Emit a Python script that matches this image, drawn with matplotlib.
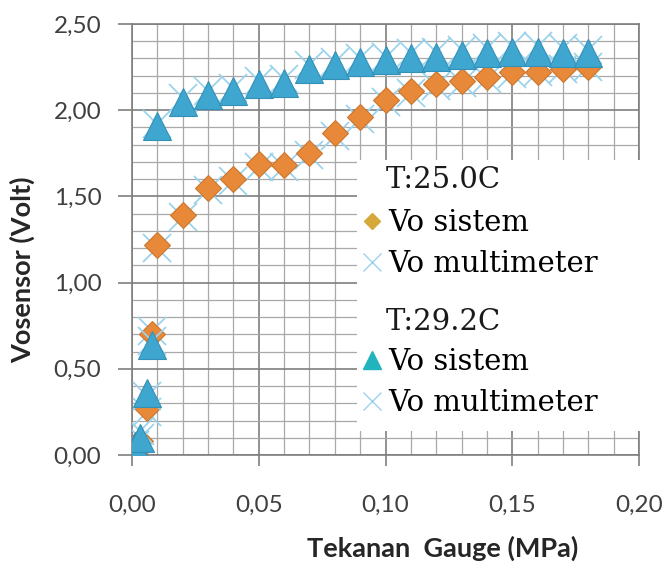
"""Vo sensor vs gauge pressure, two temperatures."""
import matplotlib
matplotlib.use("Agg")
from matplotlib import pyplot
from matplotlib import ticker
from matplotlib import patches
from matplotlib.lines import Line2D

# data
p = [0.001, 0.003, 0.006, 0.008, 0.01, 0.02, 0.03, 0.04, 0.05, 0.06, 0.07,
     0.08, 0.09, 0.10, 0.11, 0.12, 0.13, 0.14, 0.15, 0.16, 0.17, 0.18]

v25_sistem = [0.02, 0.08, 0.27, 0.70, 1.22, 1.39, 1.55, 1.60, 1.69, 1.68, 1.75,
              1.87, 1.96, 2.06, 2.11, 2.15, 2.17, 2.19, 2.22, 2.22, 2.24, 2.25]
v25_multi = [0.03, 0.10, 0.25, 0.72, 1.20, 1.38, 1.54, 1.59, 1.67, 1.67, 1.74,
             1.85, 1.95, 2.05, 2.10, 2.14, 2.16, 2.18, 2.21, 2.22, 2.24, 2.25]
v29_sistem = [0.05, 0.10, 0.36, 0.64, 1.91, 2.05, 2.09, 2.11, 2.15, 2.16, 2.24,
              2.26, 2.28, 2.29, 2.30, 2.31, 2.32, 2.33, 2.34, 2.34, 2.33, 2.33]
v29_multi = [0.06, 0.14, 0.34, 0.66, 1.92, 2.07, 2.11, 2.13, 2.17, 2.18, 2.26,
             2.28, 2.30, 2.31, 2.33, 2.34, 2.35, 2.36, 2.37, 2.37, 2.36, 2.35]

xticks = [0.00, 0.05, 0.10, 0.15, 0.20]
yticks = [0.00, 0.50, 1.00, 1.50, 2.00, 2.50]

c_dia = "#E8893A"
c_tri = "#3EA6CF"
c_x = "#9CD3EC"
tick_col = "#404040"
sans = ["Lato", "DejaVu Sans"]
serif = ["DejaVu Serif"]

W, H = 668, 569
fig = pyplot.figure(figsize=(W / 100, H / 100), dpi=100)
ax = fig.add_axes([132 / W, 1 - 455 / H, (639 - 132) / W, (455 - 24) / H])

# series
ax.plot(p, v25_multi, ls="none", marker="x", ms=20, mew=1.3, color=c_x, zorder=3)
ax.plot(p, v25_sistem, ls="none", marker="D", ms=13.5, mfc=c_dia,
        mec="#C9772F", mew=0.8, zorder=4)
ax.plot(p, v29_multi, ls="none", marker="x", ms=20, mew=1.3, color=c_x, zorder=5)
ax.plot(p, v29_sistem, ls="none", marker="^", ms=20, mfc=c_tri,
        mec="#3590B8", mew=0.8, zorder=6)

# axes
ax.set_xlim(0, 0.20)
ax.set_ylim(0, 2.5)
ax.set_xticks(xticks)
ax.set_yticks(yticks)
ax.xaxis.set_minor_locator(ticker.MultipleLocator(0.01))
ax.yaxis.set_minor_locator(ticker.MultipleLocator(0.1))
comma = ticker.FuncFormatter(lambda v, pos: "{:.2f}".format(v).replace(".", ","))
ax.xaxis.set_major_formatter(comma)
ax.yaxis.set_major_formatter(comma)

ax.grid(which="minor", color="#a8a8a8", lw=0.9, zorder=0)
ax.grid(which="major", color="#7f7f7f", lw=1.2, zorder=0)
ax.set_axisbelow(True)
for s in ax.spines.values():
    s.set_color("#7f7f7f")
    s.set_linewidth(1.2)

ax.tick_params(which="minor", length=0)
ax.tick_params(axis="x", which="major", direction="out", length=8, width=1.2,
               color="#7f7f7f", pad=21, labelsize=17.5, labelcolor=tick_col)
ax.tick_params(axis="y", which="major", direction="out", length=10, width=1.2,
               color="#7f7f7f", pad=12, labelsize=17.5, labelcolor=tick_col)
for lbl in ax.get_xticklabels() + ax.get_yticklabels():
    lbl.set_family(sans)

fig.text(443 / W, 1 - 548 / H, "Tekanan  Gauge (MPa)", ha="center", va="center",
         fontsize=19.5, fontweight="bold", family=sans, color="#262626")
fig.text(22 / W, 1 - 270 / H, "Vosensor (Volt)", ha="center", va="center",
         rotation=90, fontsize=19.5, fontweight="bold", family=sans, color="#262626")

# legend block (white box over the lower right grid)
box = patches.Rectangle((357 / W, 1 - 431 / H), (652 - 357) / W, (431 - 160) / H,
                        transform=fig.transFigure, facecolor="white",
                        edgecolor="none", zorder=10, clip_on=False)
ax.add_patch(box)

ax.text(386 / W, 1 - 180 / H, "T:25.0C", ha="left", va="center",
        transform=fig.transFigure, fontsize=21, family=serif, color="#1a1a1a",
        zorder=11)
ax.text(386 / W, 1 - 322 / H, "T:29.2C", ha="left", va="center",
        transform=fig.transFigure, fontsize=21, family=serif, color="#1a1a1a",
        zorder=11)

h_dia = Line2D([], [], ls="none", marker="D", ms=8, mfc="#D6A83A", mec="#D6A83A")
h_x = Line2D([], [], ls="none", marker="x", ms=13, mew=1.0, color=c_x)
h_tri = Line2D([], [], ls="none", marker="^", ms=13, mfc="#22B4BC", mec="#22B4BC")

lg_kw = dict(frameon=False, prop={"family": serif, "size": 21}, handlelength=0.65,
             handletextpad=0.22, labelspacing=0.45, borderpad=0, borderaxespad=0,
             loc="upper left", bbox_transform=fig.transFigure)
leg1 = ax.legend([h_dia, h_x], ["Vo sistem", "Vo multimeter"],
                 bbox_to_anchor=(363 / W, 1 - 209 / H), **lg_kw)
leg1.set_zorder(12)
ax.add_artist(leg1)
leg2 = ax.legend([h_tri, h_x], ["Vo sistem", "Vo multimeter"],
                 bbox_to_anchor=(363 / W, 1 - 348 / H), **lg_kw)
leg2.set_zorder(12)

pyplot.savefig("out.png", dpi=100)
